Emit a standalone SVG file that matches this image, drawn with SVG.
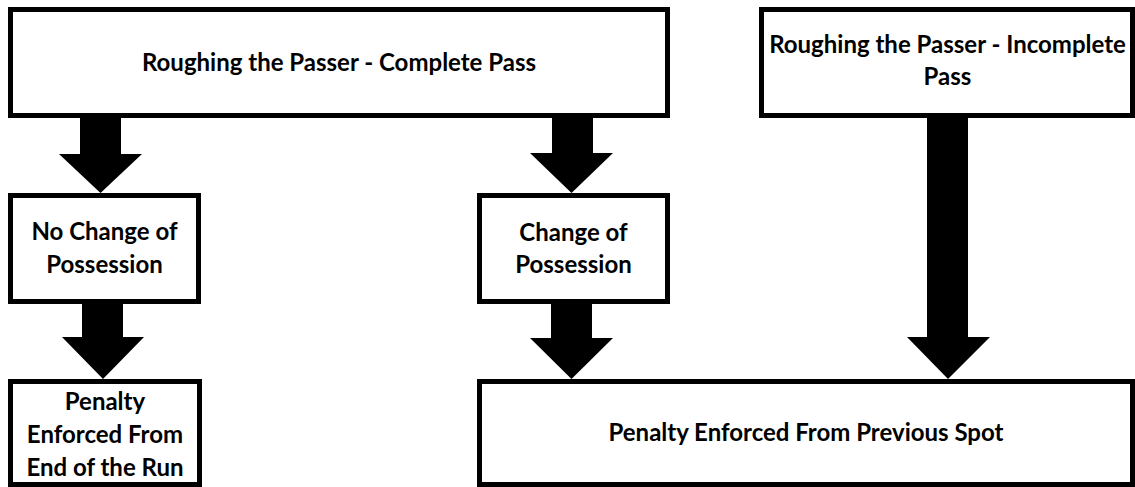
<svg xmlns="http://www.w3.org/2000/svg" width="1135" height="487" viewBox="0 0 1135 487">
<style>
.box{fill:#fff;stroke:#000;stroke-width:5}
.t{font-family:Lato,"Open Sans","Liberation Sans",sans-serif;font-weight:700;font-size:24px;fill:#000;text-anchor:middle}
.arr{fill:#000}
</style>
<rect width="1135" height="487" fill="#fff"/>
<g id="connectors">
<polygon class="arr" points="80,116 121,116 121,154 142,154 100.5,193 59,154 80,154"/>
<polygon class="arr" points="552,116 593,116 593,153 613,153 571.5,193 530,153 552,153"/>
<polygon class="arr" points="82,302 123,302 123,337 144,337 103,379 62,337 82,337"/>
<polygon class="arr" points="551,302 592,302 592,338 613,338 571.5,379 530,338 551,338"/>
<polygon class="arr" points="927,116 968,116 968,337 990,337 948,379 907,337 927,337"/>
</g>
<g id="node-complete">
<rect class="box" x="10.5" y="9.5" width="657" height="106"/>
<text class="t" x="339" y="71">Roughing the Passer - Complete Pass</text>
</g>
<g id="node-incomplete">
<rect class="box" x="761.5" y="9.5" width="371" height="106"/>
<text class="t" x="947.5" y="53">Roughing the Passer - Incomplete</text>
<text class="t" x="947.5" y="85">Pass</text>
</g>
<g id="node-no-change">
<rect class="box" x="10.5" y="195.5" width="188" height="106"/>
<text class="t" x="104.5" y="240">No Change of</text>
<text class="t" x="104.5" y="273">Possession</text>
</g>
<g id="node-change">
<rect class="box" x="479.5" y="195.5" width="188" height="106"/>
<text class="t" x="573.5" y="241">Change of</text>
<text class="t" x="573.5" y="273">Possession</text>
</g>
<g id="node-end-run">
<rect class="box" x="10.5" y="381.5" width="189" height="103"/>
<text class="t" x="105" y="410">Penalty</text>
<text class="t" x="105" y="443">Enforced From</text>
<text class="t" x="105" y="476">End of the Run</text>
</g>
<g id="node-previous-spot">
<rect class="box" x="479.5" y="381.5" width="653" height="103"/>
<text class="t" x="806" y="441">Penalty Enforced From Previous Spot</text>
</g>
</svg>
